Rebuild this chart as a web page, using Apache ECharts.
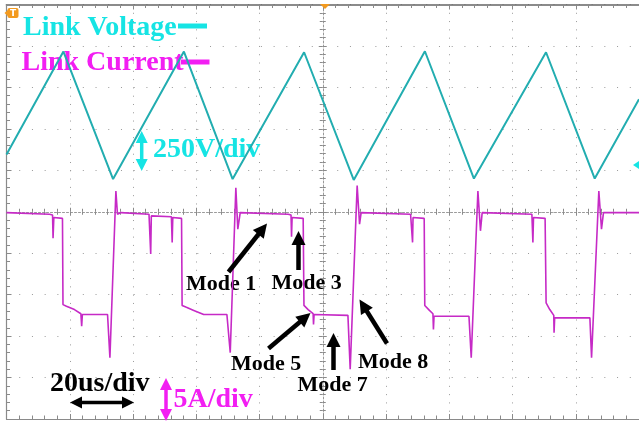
<!DOCTYPE html>
<html><head><meta charset="utf-8">
<script src="https://cdn.jsdelivr.net/npm/echarts@6/dist/echarts.min.js"></script>
<style>html,body{margin:0;padding:0;background:#fff}#c{width:639px;height:424px}</style>
</head><body><div id="c"></div>
<script>
// time in microseconds relative to trigger (20 us/div)
const timeV = [-100, -82.0, -66.3, -43.9, -28.5, -5.9, 9.8, 32.3, 47.8, 70.6, 86.0, 100];
// link voltage (V), 250 V/div
const voltV = [345, 966, 197, 966, 197, 962, 192, 968, 200, 962, 200, 679];

const timeI = [-100, -86.4, -85.44, -85.28, -85.03, -82.30, -82.14, -81.04, -78.52, -76.48, -76.23, -76.01, -68.05, -67.30, -65.41, -64.91, -64.37, -63.84,
  -54.94, -54.47, -54.40, -54.21, -47.86, -47.61, -47.42, -44.65, -44.47, -43.30, -40.79, -37.64, -30.31, -29.25, -27.48, -26.86, -26.10,
  -10.91, -10.03, -9.87, -9.69, -6.19, -5.94, -4.62, -3.05, -2.92, -2.74, 7.96, 8.68, 10.88, 11.64, 12.14,
  27.77, 28.27, 28.40, 28.55, 32.08, 32.26, 33.74, 34.84, 35.0, 35.19, 46.23, 46.95, 49.06, 49.87, 50.41,
  66.13, 66.32, 66.45, 66.64, 70.31, 70.63, 71.79, 73.05, 73.14, 73.33, 84.47, 85.0, 87.30, 88.14, 88.77, 100];
// link current (A), 5 A/div
const currI = [-0.1, -0.3, -0.4, -3.2, -0.7, -0.8, -11.2, -11.4, -11.8, -12.3, -13.8, -12.4, -12.4, -17.6, 2.5, -0.3, -0.5, -0.1,
  -0.3, -0.4, -5.1, -0.5, -0.6, -3.7, -0.7, -0.8, -11.3, -11.5, -11.9, -12.4, -12.4, -17.0, 2.9, -2.1, -0.1,
  -0.3, -0.4, -3.0, -0.7, -0.8, -11.3, -11.8, -12.3, -13.6, -12.4, -12.5, -19.0, 3.15, -1.5, -0.1,
  -0.3, -0.4, -3.7, -0.7, -0.8, -11.3, -11.9, -12.3, -14.2, -12.6, -12.6, -17.6, 2.5, -2.3, -0.1,
  -0.3, -0.4, -3.7, -0.7, -0.8, -11.0, -11.8, -12.5, -14.6, -12.8, -12.8, -17.6, 2.5, -2.1, -0.1, -0.1];

const titles = ['Link Voltage', 'Link Current'];
const scaleLabels = ['250V/div', '20us/div', '5A/div'];
const modeLabels = ['Mode 1', 'Mode 3', 'Mode 5', 'Mode 7', 'Mode 8'];

const chart = echarts.init(document.getElementById('c'));
const GRID = '#9a9a9a', BORDER = '#8a8a8a';
const CYAN = '#16e4e4', MAG = '#f21ef2';
const FONT = 'bold 28px "Liberation Serif", "Times New Roman", serif';
const FONT_S = 'bold 22px "Liberation Serif", "Times New Roman", serif';

function arrow(x1, y1, x2, y2, color, w, head, both) {
  const els = [];
  const ang = Math.atan2(y2 - y1, x2 - x1);
  function headAt(px, py, a) {
    const bx = px - head * Math.cos(a), by = py - head * Math.sin(a);
    const nx = -Math.sin(a) * head * 0.5, ny = Math.cos(a) * head * 0.5;
    return {type: 'polygon', shape: {points: [[px, py], [bx + nx, by + ny], [bx - nx, by - ny]]}, style: {fill: color}, z: 10};
  }
  let sx = x1, sy = y1, ex = x2 - head * 0.8 * Math.cos(ang), ey = y2 - head * 0.8 * Math.sin(ang);
  if (both) { sx = x1 + head * 0.8 * Math.cos(ang); sy = y1 + head * 0.8 * Math.sin(ang); }
  els.push({type: 'line', shape: {x1: sx, y1: sy, x2: ex, y2: ey}, style: {stroke: color, lineWidth: w}, z: 10});
  els.push(headAt(x2, y2, ang));
  if (both) els.push(headAt(x1, y1, ang + Math.PI));
  return els;
}
function txt(t, x, y, font, color) {
  return {type: 'text', x: x, y: y, z: 1, style: {text: t, font: font, fill: color, textVerticalAlign: 'middle', textAlign: 'left'}};
}

const graphics = [].concat(
  [txt(titles[0], 23, 28, FONT, CYAN),
   {type: 'rect', shape: {x: 178, y: 23.5, width: 29, height: 5}, style: {fill: CYAN}, z: 1},
   txt(titles[1], 21.5, 62.5, FONT, MAG),
   {type: 'rect', shape: {x: 181, y: 59.5, width: 28.5, height: 5}, style: {fill: MAG}, z: 1},
   txt(scaleLabels[0], 153, 150, FONT, CYAN),
   txt(scaleLabels[1], 50, 383.5, FONT, '#000'),
   txt(scaleLabels[2], 173.5, 400, FONT, MAG),
   txt(modeLabels[0], 186, 284.5, FONT_S, '#000'),
   txt(modeLabels[1], 271.5, 283.5, FONT_S, '#000'),
   txt(modeLabels[2], 231, 364, FONT_S, '#000'),
   txt(modeLabels[3], 297.5, 385.5, FONT_S, '#000'),
   txt(modeLabels[4], 358, 362.5, FONT_S, '#000'),
   // trigger markers
   {type: 'rect', shape: {x: 7.5, y: 8, width: 11, height: 10, r: 2}, style: {fill: '#f39a1e'}, z: 5},
   {type: 'polygon', shape: {points: [[4.5, 13], [8.5, 9.5], [8.5, 16.5]]}, style: {fill: '#f39a1e'}, z: 5},
   {type: 'text', x: 13, y: 13.5, z: 6, style: {text: 'T', font: 'bold 9px "DejaVu Sans", sans-serif', fill: '#fff', textAlign: 'center', textVerticalAlign: 'middle'}},
   {type: 'polygon', shape: {points: [[320, 4], [330, 4], [325, 9]]}, style: {fill: '#f39a1e'}, z: 5},
   {type: 'polygon', shape: {points: [[633, 165], [639, 161], [639, 169]]}, style: {fill: CYAN}, z: 5}
  ],
  arrow(141.7, 131, 141.7, 171, CYAN, 3.5, 12, true),
  arrow(70, 402.5, 134, 402.5, '#000', 3.5, 12, true),
  arrow(166, 378, 166, 421, MAG, 3.5, 12, true),
  arrow(228.5, 272, 267, 223.5, '#000', 4.5, 14, false),
  arrow(298.5, 270, 298.5, 231, '#000', 4.5, 14, false),
  arrow(268.5, 348.5, 310.5, 313, '#000', 4.5, 14, false),
  arrow(333.5, 370, 333.5, 333, '#000', 4.5, 14, false),
  arrow(387, 343.5, 359.5, 299.5, '#000', 4.5, 14, false)
);

const option = {
  backgroundColor: '#ffffff',
  animation: false,
  grid: {left: 6.5, top: 4.5, width: 636, height: 414.5, show: false},
  xAxis: [
    {type: 'value', min: -100, max: 100, interval: 20, position: 'bottom',
     axisLine: {show: true, onZero: false, lineStyle: {color: BORDER, width: 1.2}},
     axisTick: {show: true, inside: true, length: 5, lineStyle: {color: BORDER}},
     minorTick: {show: true, splitNumber: 5, length: 3.5, lineStyle: {color: BORDER}},
     axisLabel: {show: false},
     splitLine: {show: true, lineStyle: {color: GRID, width: 1, type: [1, 7.29]}}},
    {type: 'value', min: -100, max: 100, interval: 20, position: 'top',
     axisLine: {show: true, onZero: false, lineStyle: {color: '#666', width: 1.5}},
     axisTick: {show: true, inside: true, length: 5, lineStyle: {color: BORDER}},
     minorTick: {show: true, splitNumber: 5, length: 3.5, lineStyle: {color: BORDER}},
     axisLabel: {show: false}, splitLine: {show: false}},
    {type: 'value', min: -100, max: 100, interval: 20, position: 'bottom',
     axisLine: {show: true, onZero: true, onZeroAxisIndex: 0, lineStyle: {color: GRID, width: 1, type: [2, 2]}},
     axisTick: {show: true, inside: true, length: 4, lineStyle: {color: BORDER}},
     minorTick: {show: true, splitNumber: 5, length: 3, lineStyle: {color: BORDER}},
     axisLabel: {show: false}, splitLine: {show: false}},
    {type: 'value', min: -100, max: 100, interval: 20, position: 'bottom',
     axisLine: {show: false, onZero: true, onZeroAxisIndex: 0},
     axisTick: {show: true, inside: false, length: 4, lineStyle: {color: BORDER}},
     minorTick: {show: true, splitNumber: 5, length: 3, lineStyle: {color: BORDER}},
     axisLabel: {show: false}, splitLine: {show: false}}
  ],
  yAxis: [
    {type: 'value', min: -1250, max: 1250, interval: 250, position: 'left',
     axisLine: {show: true, onZero: false, lineStyle: {color: BORDER, width: 1.2}},
     axisTick: {show: true, inside: true, length: 5, lineStyle: {color: BORDER}},
     minorTick: {show: true, splitNumber: 5, length: 3.5, lineStyle: {color: BORDER}},
     axisLabel: {show: false},
     splitLine: {show: true, lineStyle: {color: GRID, width: 1, type: [1, 11.72]}}},
    {type: 'value', min: -25, max: 25, interval: 5, position: 'left', show: false},
    {type: 'value', min: -1250, max: 1250, interval: 250, position: 'left',
     axisLine: {show: true, onZero: true, onZeroAxisIndex: 0, lineStyle: {color: GRID, width: 1, type: [2, 2]}},
     axisTick: {show: true, inside: true, length: 4, lineStyle: {color: BORDER}},
     minorTick: {show: true, splitNumber: 5, length: 3, lineStyle: {color: BORDER}},
     axisLabel: {show: false}, splitLine: {show: false}},
    {type: 'value', min: -1250, max: 1250, interval: 250, position: 'left',
     axisLine: {show: false, onZero: true, onZeroAxisIndex: 0},
     axisTick: {show: true, inside: false, length: 4, lineStyle: {color: BORDER}},
     minorTick: {show: true, splitNumber: 5, length: 3, lineStyle: {color: BORDER}},
     axisLabel: {show: false}, splitLine: {show: false}}
  ],
  series: [
    {name: titles[1], type: 'line', xAxisIndex: 0, yAxisIndex: 1, showSymbol: false, z: 3,
     lineStyle: {color: '#c62ac6', width: 1.6}, data: timeI.map((t, i) => [t, currI[i]])},
    {name: titles[0], type: 'line', xAxisIndex: 0, yAxisIndex: 0, showSymbol: false, z: 4,
     lineStyle: {color: '#22adb0', width: 2}, data: timeV.map((t, i) => [t, voltV[i]])}
  ],
  graphic: graphics
};
chart.setOption(option);
</script></body></html>
